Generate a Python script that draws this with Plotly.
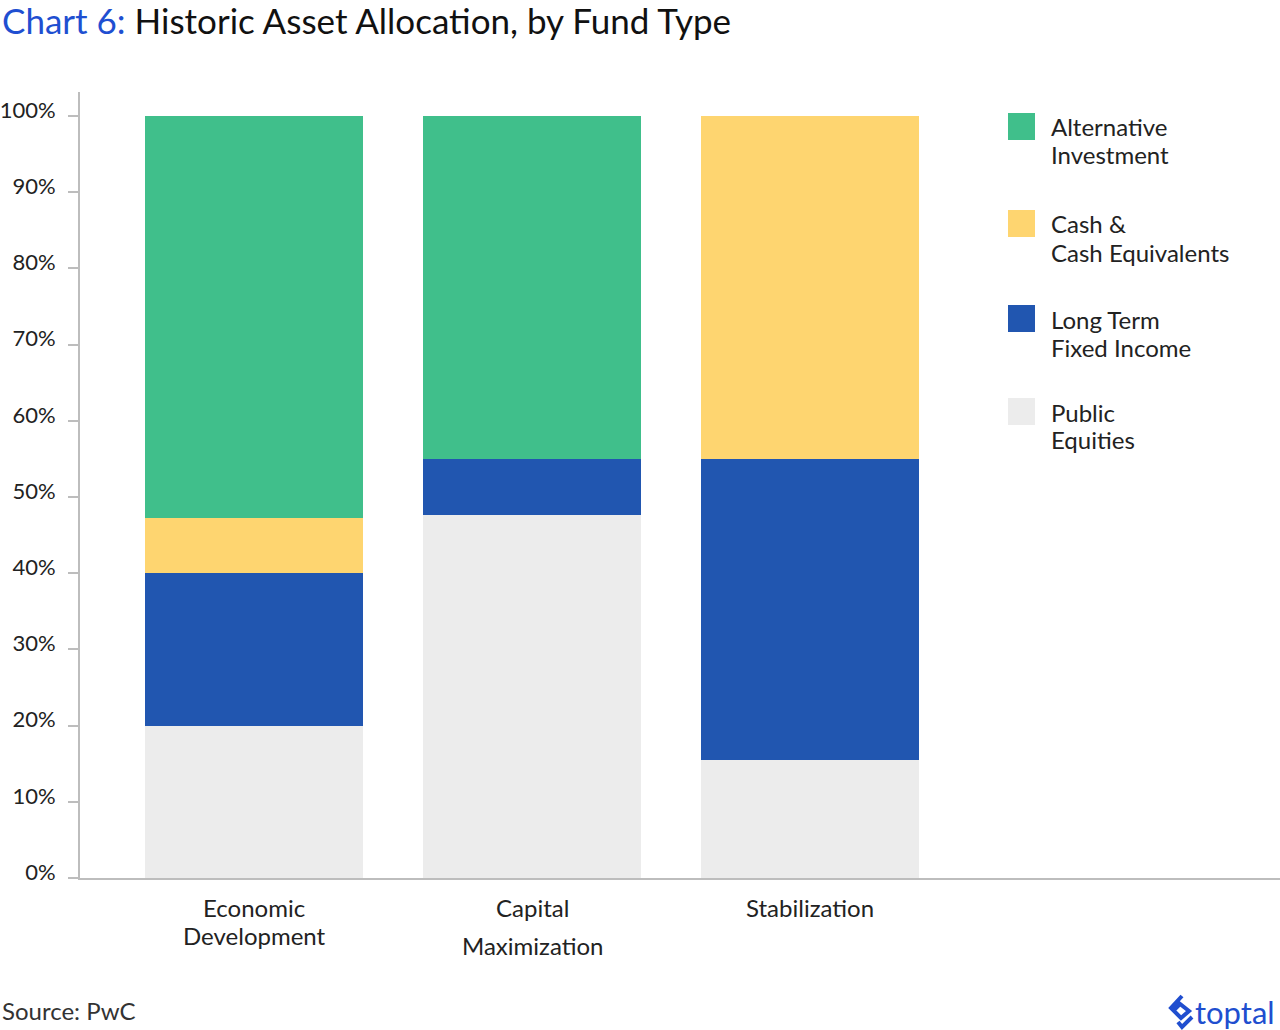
import plotly.graph_objects as go

# ---- data ----
categories = ["Economic Development", "Capital Maximization", "Stabilization"]
category_lines = [["Economic", "Development"], ["Capital", "Maximization"], ["Stabilization"]]
series_names = ["Public Equities", "Long Term Fixed Income", "Cash & Cash Equivalents", "Alternative Investment"]
public_equities = [20.0, 47.6, 15.5]
long_term_fixed_income = [20.0, 7.4, 39.5]
cash_equivalents = [7.2, 0.0, 45.0]
alternative_investment = [52.8, 45.0, 0.0]
legend_lines = [["Alternative", "Investment"], ["Cash &", "Cash Equivalents"],
                ["Long Term", "Fixed Income"], ["Public", "Equities"]]
tick_values = [0, 10, 20, 30, 40, 50, 60, 70, 80, 90, 100]
tick_labels = ["0%", "10%", "20%", "30%", "40%", "50%", "60%", "70%", "80%", "90%", "100%"]

# ---- style ----
colors = {"Public Equities": "#ececec", "Long Term Fixed Income": "#2156b0",
          "Cash & Cash Equivalents": "#fed570", "Alternative Investment": "#40bf8b"}
legend_colors = ["#40bf8b", "#fed570", "#2156b0", "#ececec"]
FONT = "Lato, 'Noto Sans', sans-serif"
TXT = "#222222"
W, H = 1280, 1030
L, R, T, B = 80, 0, 92, 152
PW, PH = W - L - R, H - T - B


def px(x):
    return (x - L) / PW


def py(y):
    return (H - B - y) / PH


fig = go.Figure()
values = [public_equities, long_term_fixed_income, cash_equivalents, alternative_investment]
for name, vals in zip(series_names, values):
    fig.add_trace(go.Bar(x=categories, y=vals, name=name, marker_color=colors[name],
                         marker_line_width=0, width=0.784, showlegend=False))

fig.update_layout(
    width=W, height=H, barmode="stack", showlegend=False,
    margin=dict(l=L, r=R, t=T, b=B, pad=0, autoexpand=False),
    paper_bgcolor="white", plot_bgcolor="white",
    font=dict(family=FONT, color=TXT, size=23),
    title=dict(text="<span style='color:#1f4fd1'>Chart 6:</span> Historic Asset Allocation, by Fund Type",
               x=2 / W, xref="container", xanchor="left", y=1 - 22 / H, yanchor="middle",
               font=dict(size=35, color="#111111", family=FONT), pad=dict(l=0, t=0, b=0, r=0),
               automargin=False),
    xaxis=dict(range=[-0.626, -0.626 + PW / 278.0], showticklabels=False, ticks="",
               showline=True, linecolor="#bdbdbd", linewidth=2, showgrid=False, zeroline=False,
               automargin=False),
    yaxis=dict(range=[0, 100 * (H - B - T) / (878 - 116)], tickvals=tick_values, ticktext=tick_labels,
               ticks="outside", ticklen=10, tickwidth=2, tickcolor="#bdbdbd",
               showline=True, linecolor="#bdbdbd", linewidth=2, showgrid=False, zeroline=False,
               tickfont=dict(size=22, color=TXT), ticklabelstandoff=8, ticklabelshift=-6,
               automargin=False),
)

# category labels
line_offsets = [[907, 935], [907, 945], [907]]
for cat, lines, offs in zip(categories, category_lines, line_offsets):
    for line, yy in zip(lines, offs):
        fig.add_annotation(x=cat, xref="x", y=py(yy), yref="paper", text=line, showarrow=False,
                           xanchor="center", yanchor="middle", font=dict(size=24, color=TXT))

# legend (manual)
legend_tops = [113, 210, 305, 398]
for lines, col, top in zip(legend_lines, legend_colors, legend_tops):
    fig.add_shape(type="rect", xref="paper", yref="paper", x0=px(1008), x1=px(1035),
                  y0=py(top), y1=py(top + 27), fillcolor=col, line_width=0)
    for i, line in enumerate(lines):
        fig.add_annotation(xref="paper", yref="paper", x=px(1049), y=py(top + 14 + 28 * i), text=line,
                           showarrow=False, xanchor="left", yanchor="middle", align="left",
                           font=dict(size=24, color=TXT))

# source
fig.add_annotation(xref="paper", yref="paper", x=px(0), y=py(1010), text="Source: PwC",
                   showarrow=False, xanchor="left", yanchor="middle", font=dict(size=24, color="#333333"))

# toptal logo
fig.add_annotation(xref="paper", yref="paper", x=px(1277), y=py(1012), text="toptal",
                   showarrow=False, xanchor="right", yanchor="middle",
                   font=dict(size=31, color="#204ecf", family=FONT))
icon = [(1182, 996), (1171, 1008), (1181, 1018), (1189, 1011), (1180, 1004), (1174, 1010)]
path = "M " + " L ".join(f"{px(a)},{py(b)}" for a, b in icon)
fig.add_shape(type="path", xref="paper", yref="paper", path=path,
              line=dict(color="#204ecf", width=4))
fig.add_shape(type="path", xref="paper", yref="paper",
              path=f"M {px(1178)},{py(1022)} L {px(1182)},{py(1027)} L {px(1192)},{py(1017)}",
              line=dict(color="#204ecf", width=4))

fig.write_html("out.html")
